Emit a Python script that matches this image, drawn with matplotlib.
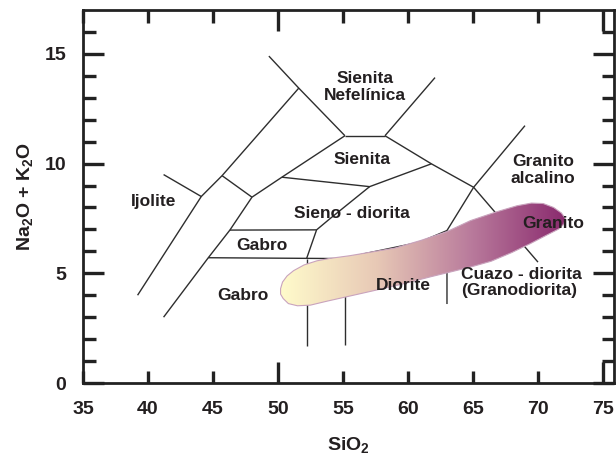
import numpy as np
import matplotlib.pyplot as plt
from matplotlib.patches import Polygon
from matplotlib.colors import LinearSegmentedColormap

plt.rcParams['font.family'] = ['Liberation Sans', 'DejaVu Sans']
plt.rcParams['font.weight'] = 'bold'
plt.rcParams['mathtext.fontset'] = 'custom'
plt.rcParams['mathtext.rm'] = 'Liberation Sans:bold'
plt.rcParams['mathtext.it'] = 'Liberation Sans:bold'
plt.rcParams['mathtext.bf'] = 'Liberation Sans:bold'

# field boundaries (SiO2, Na2O+K2O)
ijolite_left_x = [39.2, 44.1, 45.7, 51.6]
ijolite_left_y = [4.0, 8.5, 9.45, 13.44]
ijolite_top_x = [41.2, 44.1]
ijolite_top_y = [9.5, 8.5]
gabro_top_x = [45.7, 48.0]
gabro_top_y = [9.45, 8.47]
gabro_left_x = [41.2, 44.64, 46.3, 48.0, 50.3, 55.15]
gabro_left_y = [3.0, 5.71, 6.97, 8.47, 9.38, 11.27]
nefel_left_x = [49.3, 51.6, 55.15]
nefel_left_y = [14.9, 13.44, 11.27]
nefel_base_x = [55.15, 58.23]
nefel_base_y = [11.27, 11.27]
nefel_right_x = [58.23, 62.08]
nefel_right_y = [11.27, 13.92]
sienita_right_x = [58.23, 61.8, 65.05, 70.0]
sienita_right_y = [11.27, 9.99, 8.92, 5.51]
granito_alc_x = [69.0, 65.05, 63.0, 63.0]
granito_alc_y = [11.73, 8.92, 6.95, 3.6]
sienita_low_x = [50.3, 57.05, 61.8]
sienita_low_y = [9.38, 8.95, 9.99]
sieno_left_x = [52.2, 52.97, 54.0, 57.05]
sieno_left_y = [5.67, 6.98, 7.49, 8.95]
gabro_mid_x = [46.3, 52.97]
gabro_mid_y = [6.97, 6.98]
diorite_top_x = [44.64, 55.15, 56.7, 60.9, 63.0]
diorite_top_y = [5.71, 5.67, 5.9, 6.42, 6.95]
vert52_x = [52.2, 52.2]
vert52_y = [5.67, 1.7]
vert55_x = [55.15, 55.15]
vert55_y = [5.67, 1.75]

boundaries = [
    (ijolite_left_x, ijolite_left_y), (ijolite_top_x, ijolite_top_y),
    (gabro_top_x, gabro_top_y), (gabro_left_x, gabro_left_y),
    (nefel_left_x, nefel_left_y), (nefel_base_x, nefel_base_y),
    (nefel_right_x, nefel_right_y), (sienita_right_x, sienita_right_y),
    (granito_alc_x, granito_alc_y), (sienita_low_x, sienita_low_y),
    (sieno_left_x, sieno_left_y), (gabro_mid_x, gabro_mid_y),
    (diorite_top_x, diorite_top_y), (vert52_x, vert52_y),
    (vert55_x, vert55_y),
]

# sample trend band outline
band_x = [50.2, 50.35, 50.7, 51.2, 52.0, 53.0, 54.0, 55.5, 57.0, 59.0, 61.0,
          63.0, 64.8, 66.8, 68.4, 69.5, 70.4, 71.2, 71.8, 72.1, 72.0, 71.6,
          70.7, 69.4, 68.0, 66.4, 64.9, 63.4, 61.8, 59.5, 57.3, 55.2, 53.7,
          52.5, 51.5, 50.8, 50.4, 50.2]
band_y = [4.3, 4.6, 4.88, 5.12, 5.38, 5.57, 5.68, 5.8, 5.95, 6.15, 6.5,
          6.9, 7.4, 7.8, 8.08, 8.2, 8.18, 8.0, 7.75, 7.5, 7.25, 7.02,
          6.75, 6.35, 5.95, 5.55, 5.3, 5.08, 4.85, 4.5, 4.2, 3.92, 3.72,
          3.55, 3.52, 3.62, 3.85, 4.05]

# field names
field_names = ['Sienita\nNefelínica', 'Sienita', 'Granito\nalcalino', 'Ijolite',
               'Sieno - diorita', 'Granito', 'Gabro', 'Gabro', 'Diorite']
field_x = [56.7, 56.44, 70.4, 40.4, 55.66, 71.18, 48.74, 47.33, 59.64]
field_y = [13.5, 10.17, 9.72, 8.27, 7.74, 7.29, 6.27, 4.0, 4.45]

xticks = [35, 40, 45, 50, 55, 60, 65, 70, 75]
yticks = [0, 5, 10, 15]

fig = plt.figure(figsize=(6.16, 4.57), dpi=100)
ax = fig.add_axes([0.1347, 0.1619, 0.9968 - 0.1347, 0.9781 - 0.1619])

line_col = '#2e2e2e'
for bx, by in boundaries:
    ax.plot(bx, by, color=line_col, lw=1.0, solid_capstyle='butt', zorder=2)

# gradient band
cmap = LinearSegmentedColormap.from_list('band', ['#fffbcb', '#e8c9b6', '#b97b9c', '#8a2a6e'])
poly = Polygon(np.column_stack([band_x, band_y]), closed=True, facecolor='none',
               edgecolor='#c9a3bd', lw=0.8, zorder=4)
ax.add_patch(poly)
grad = np.linspace(0, 1, 256).reshape(1, -1)
im = ax.imshow(grad, cmap=cmap, aspect='auto', origin='lower',
               extent=[min(band_x), max(band_x), min(band_y), max(band_y)], zorder=3)
im.set_clip_path(poly)
ax.set_xlim(35, 75.85)
ax.set_ylim(0, 17)

txt_col = '#231f20'
for name, tx, ty in zip(field_names, field_x, field_y):
    ax.text(tx, ty, name, ha='center', va='center', fontsize=12.5,
            fontweight='bold', color=txt_col, linespacing=1.15, zorder=5)
ax.text(64.05, 4.58, 'Cuazo - diorita\n(Granodiorita)', ha='left', va='center',
        fontsize=12.5, fontweight='bold', color=txt_col, linespacing=1.15, zorder=5)

# axes styling
for s in ax.spines.values():
    s.set_linewidth(2.0)
    s.set_color('#222222')

ax.set_xticks(xticks)
ax.set_yticks(yticks)
ax.set_yticks([v for v in range(1, 17) if v % 5 != 0], minor=True)
ax.tick_params(axis='both', which='both', direction='in', top=True, right=True,
               width=2.4, color='#222222', labelsize=14, labelcolor=txt_col)
ax.tick_params(axis='y', which='major', length=15, pad=12)
ax.tick_params(axis='y', which='minor', length=9)
ax.tick_params(axis='x', which='major', length=9, pad=13)
for t, v in zip(ax.xaxis.get_major_ticks(), xticks):
    if v in (50, 75):
        t.tick1line.set_markersize(15)
        t.tick2line.set_markersize(15)

ax.set_xlabel('SiO$_2$', fontsize=14, fontweight='bold', color=txt_col, labelpad=12)
ax.set_ylabel('Na$_2$O + K$_2$O', fontsize=14, fontweight='bold', color=txt_col, labelpad=7)

fig.savefig('out.png', dpi=100)
